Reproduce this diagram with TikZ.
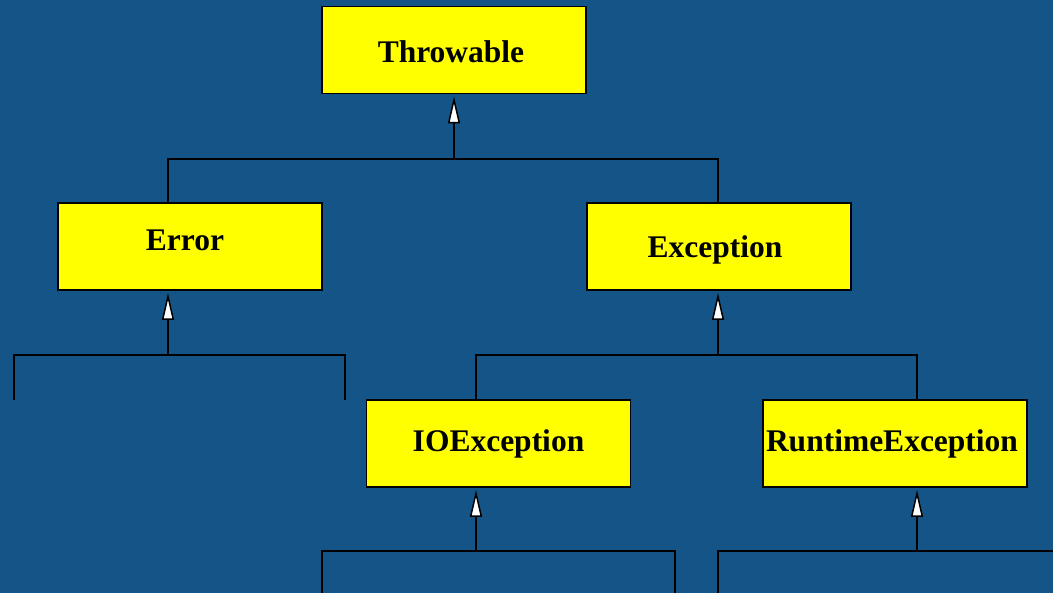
\documentclass[tikz,border=0pt]{standalone}
\usepackage{fontspec}
\setmainfont{Liberation Serif}
\usetikzlibrary{arrows.meta,calc}
\definecolor{bg}{RGB}{20,84,134}
\definecolor{boxyellow}{RGB}{255,255,0}
\tikzset{
  cls/.style 2 args={draw=black, line width=1.5pt, fill=boxyellow, minimum width=264pt, minimum height=87pt,
    inner sep=0pt, outer sep=0pt, font=\fontsize{31.5}{36}\selectfont\bfseries,
    text height=#1pt, text depth=#2pt},
  link/.style={draw=black, line width=2pt},
  inh/.style={link, -{Triangle[length=27pt,width=12pt,fill=white,line width=1.5pt]}},
}
\begin{document}
\begin{tikzpicture}[x=1pt,y=-1pt]
\fill[bg] (0,0) rectangle (1053,593);
\useasboundingbox (0,0) rectangle (1053,593);
\clip (0,0) rectangle (1053,593);

\node[cls={56}{31}] (thr) at (454,50) {Throwable\kern6pt};
\node[cls={48}{39}] (err) at (190,246.5) {Error\kern10pt};
\node[cls={55}{32}] (exc) at (719,246.5) {Exception\kern8pt};
\node[cls={52}{35}] (io) at (498.5,443.5) {IOException};
\node[cls={52}{35}] (rt) at (895,443.5) {RuntimeException\kern6pt};

% Throwable children
\coordinate (t1) at (454,159);
\draw[inh] (t1) -- ($(thr.south)+(0,3)$);
\draw[link] ([xshift=-22pt]err.north) |- (t1) -| ([xshift=-1pt]exc.north);

% Error children
\coordinate (e1) at (168,355);
\coordinate (ea) at (14,400);
\coordinate (eb) at (345,400);
\draw[inh] (e1) -- ($(e1 |- err.south)+(0,3)$);
\draw[link] (ea) |- (e1) -| (eb);

% Exception children
\coordinate (x1) at (718,355);
\draw[inh] (x1) -- ($(x1 |- exc.south)+(0,3)$);
\draw[link] (io.north -| 476,0) |- (x1) -| (rt.north -| 917,0);

% IOException children
\coordinate (i1) at (476,551);
\coordinate (ia) at (322,600);
\coordinate (ib) at (675,600);
\draw[inh] (i1) -- ($(i1 |- io.south)+(0,3)$);
\draw[link] (ia) |- (i1) -| (ib);

% RuntimeException children
\coordinate (r1) at (917,551);
\coordinate (ra) at (718,600);
\coordinate (rb) at (1060,551);
\draw[inh] (r1) -- ($(r1 |- rt.south)+(0,3)$);
\draw[link] (ra) |- (r1) -- (rb);
\end{tikzpicture}
\end{document}
